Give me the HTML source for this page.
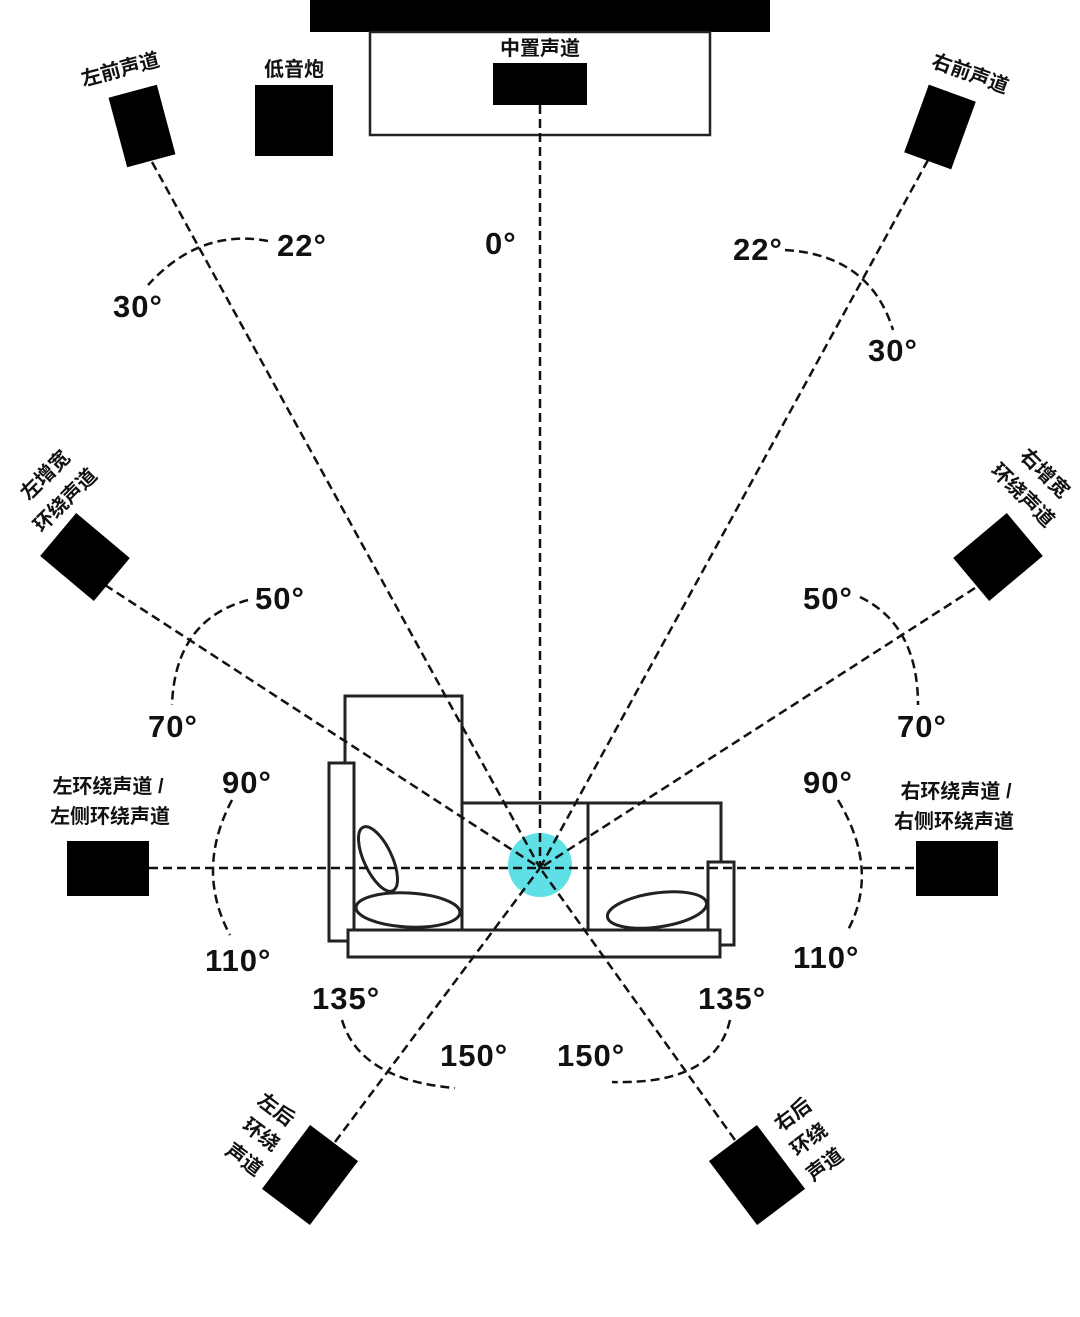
<!DOCTYPE html>
<html><head><meta charset="utf-8"><style>
html,body{margin:0;padding:0;background:#fff}
svg text{font-family:"Liberation Sans","Noto Sans CJK SC",sans-serif;font-weight:bold;fill:#111}
</style></head><body>
<svg width="1080" height="1312" viewBox="0 0 1080 1312" xmlns="http://www.w3.org/2000/svg">
<rect x="310" y="0" width="460" height="32" fill="#000"/>
<rect x="370" y="32" width="340" height="103" fill="none" stroke="#222" stroke-width="2.5"/>
<rect x="493" y="63" width="94" height="42" fill="#000"/>
<rect x="255" y="85" width="78" height="71" fill="#000"/>
<g stroke="#222" stroke-width="3" fill="#fff">
<rect x="345" y="696" width="117" height="234"/>
<rect x="329" y="763" width="25" height="178"/>
<rect x="462" y="803" width="126" height="127"/>
<rect x="588" y="803" width="133" height="127"/>
<rect x="708" y="862" width="26" height="83"/>
<rect x="348" y="930" width="372" height="27"/>
<ellipse cx="378" cy="859" rx="14" ry="35" transform="rotate(-25 378 859)"/>
<ellipse cx="408" cy="910" rx="52" ry="17" transform="rotate(3 408 910)"/>
<ellipse cx="657" cy="910" rx="50" ry="17" transform="rotate(-8 657 910)"/>
</g>
<circle cx="540" cy="865" r="32" fill="#5fe0e6"/>
<g stroke="#111" stroke-width="2.5" stroke-dasharray="9,5" fill="none">
<line x1="540" y1="105" x2="540" y2="868"/>
<line x1="152" y1="162" x2="540" y2="868"/>
<line x1="928" y1="160" x2="540" y2="868"/>
<line x1="105" y1="585" x2="540" y2="868"/>
<line x1="975" y1="588" x2="540" y2="868"/>
<line x1="149" y1="868" x2="916" y2="868"/>
<line x1="335" y1="1142" x2="540" y2="868"/>
<line x1="735" y1="1140" x2="540" y2="868"/>
<path d="M268,241 Q200,228 148,285"/>
<path d="M785,250 Q870,255 893,330"/>
<path d="M248,600 Q175,620 172,705"/>
<path d="M860,597 Q918,625 918,705"/>
<path d="M232,800 Q195,870 230,935"/>
<path d="M838,800 Q880,870 848,930"/>
<path d="M342,1020 Q360,1080 455,1088"/>
<path d="M730,1020 Q715,1085 612,1082"/>
</g>
<g fill="#000">
<rect x="-25" y="-36" width="50" height="72" transform="translate(142,126) rotate(-15)"/>
<rect x="-25" y="-36" width="50" height="72" transform="translate(940,127) rotate(20)"/>
<rect x="-28" y="-35" width="56" height="70" transform="translate(85,557) rotate(-50)"/>
<rect x="-28" y="-35" width="56" height="70" transform="translate(998,557) rotate(50)"/>
<rect x="67" y="841" width="82" height="55"/>
<rect x="916" y="841" width="82" height="55"/>
<rect x="-30" y="-40" width="60" height="80" transform="translate(310,1175) rotate(37)"/>
<rect x="-30" y="-40" width="60" height="80" transform="translate(757,1175) rotate(-37)"/>
</g>
<g font-size="20">
<text x="540" y="55" text-anchor="middle">中置声道</text>
<text x="294" y="76" text-anchor="middle">低音炮</text>
<text transform="translate(122,76) rotate(-15)" text-anchor="middle">左前声道</text>
<text transform="translate(968,80) rotate(20)" text-anchor="middle">右前声道</text>
<text transform="translate(50,480) rotate(-45)" text-anchor="middle">左增宽</text>
<text transform="translate(70,505) rotate(-45)" text-anchor="middle">环绕声道</text>
<text transform="translate(1040,478) rotate(45)" text-anchor="middle">右增宽</text>
<text transform="translate(1018,500) rotate(45)" text-anchor="middle">环绕声道</text>
<text x="108" y="793" text-anchor="middle">左环绕声道 /</text>
<text x="110" y="823" text-anchor="middle">左侧环绕声道</text>
<text x="956" y="798" text-anchor="middle">右环绕声道 /</text>
<text x="954" y="828" text-anchor="middle">右侧环绕声道</text>
<text transform="translate(272,1115) rotate(37)" text-anchor="middle">左后</text>
<text transform="translate(257,1140) rotate(37)" text-anchor="middle">环绕</text>
<text transform="translate(240,1165) rotate(37)" text-anchor="middle">声道</text>
<text transform="translate(797,1120) rotate(-37)" text-anchor="middle">右后</text>
<text transform="translate(813,1145) rotate(-37)" text-anchor="middle">环绕</text>
<text transform="translate(829,1170) rotate(-37)" text-anchor="middle">声道</text>
</g>
<g font-size="31" letter-spacing="1">
<text x="277" y="256">22°</text>
<text x="113" y="317">30°</text>
<text x="485" y="254">0°</text>
<text x="733" y="260">22°</text>
<text x="868" y="361">30°</text>
<text x="255" y="609">50°</text>
<text x="148" y="737">70°</text>
<text x="803" y="609">50°</text>
<text x="897" y="737">70°</text>
<text x="222" y="793">90°</text>
<text x="205" y="971">110°</text>
<text x="803" y="793">90°</text>
<text x="793" y="968">110°</text>
<text x="312" y="1009">135°</text>
<text x="440" y="1066">150°</text>
<text x="698" y="1009">135°</text>
<text x="557" y="1066">150°</text>
</g>
</svg>
</body></html>
